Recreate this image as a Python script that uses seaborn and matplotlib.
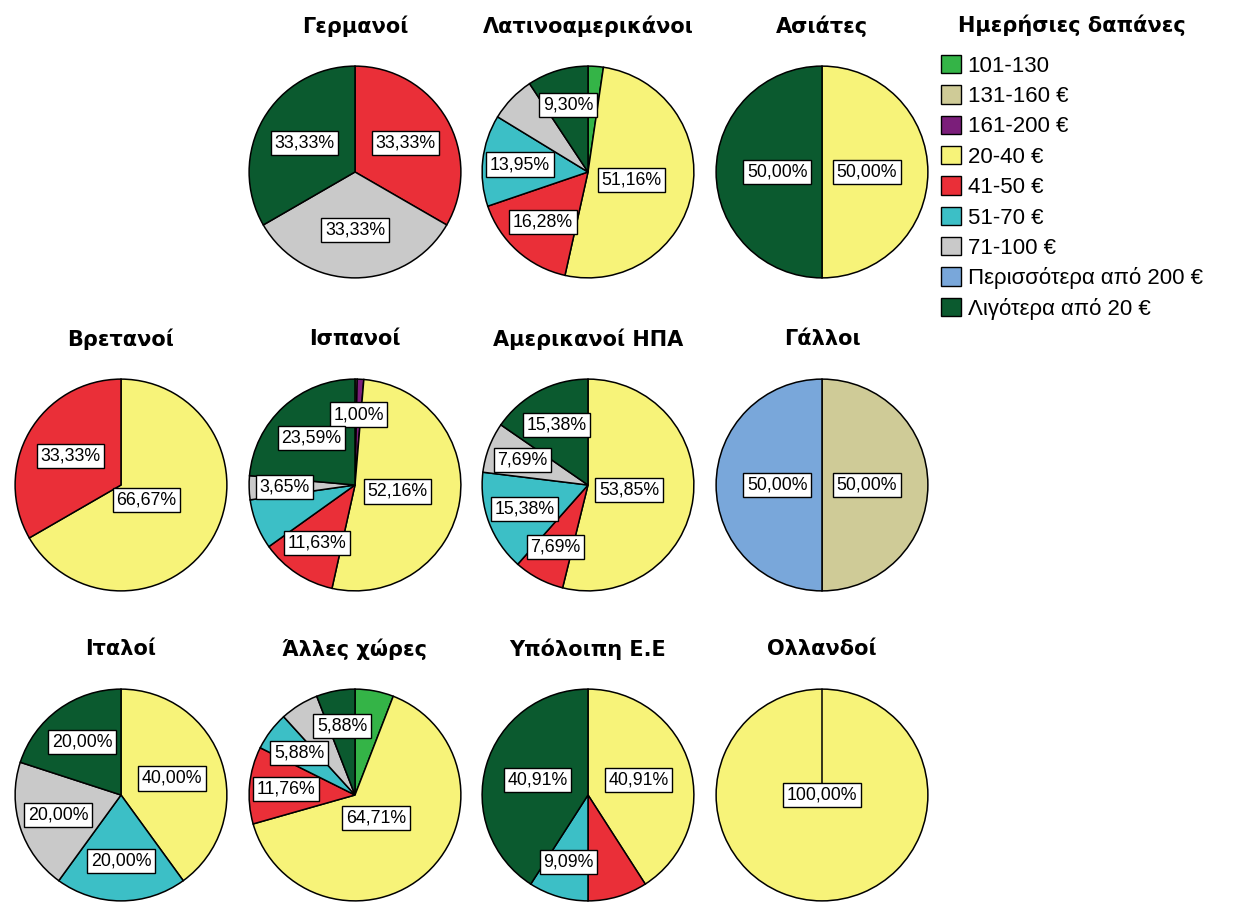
import matplotlib
matplotlib.use("Agg")
import matplotlib.pyplot as plt
import seaborn as sns
import numpy as np
from matplotlib.patches import Patch

sns.set_theme(style="white")
plt.rcParams['font.family'] = ['Liberation Sans', 'DejaVu Sans']
plt.rcParams['text.color'] = 'black'

# ---------------- data ----------------
categories = ["101-130", "131-160 €", "161-200 €", "20-40 €", "41-50 €", "51-70 €",
              "71-100 €", "Περισσότερα από 200 €", "Λιγότερα από 20 €"]
cat_colors = ["#34b447", "#cfcb97", "#7b1e7a", "#f7f379", "#ea2f38", "#3cbfc6",
              "#c9c9c9", "#79a7da", "#0b5a2f"]
legend_title = "Ημερήσιες δαπάνες"

germans  = [0, 0, 0, 0, 33.33, 0, 33.33, 0, 33.33]
latin    = [2.33, 0, 0, 51.16, 16.28, 13.95, 6.98, 0, 9.30]
asians   = [0, 0, 0, 50.00, 0, 0, 0, 0, 50.00]
british  = [0, 0, 0, 66.67, 33.33, 0, 0, 0, 0]
spanish  = [0, 0.33, 1.00, 52.16, 11.63, 7.64, 3.65, 0, 23.59]
american = [0, 0, 0, 53.85, 7.69, 15.38, 7.69, 0, 15.38]
french   = [0, 50.00, 0, 0, 0, 0, 0, 50.00, 0]
italian  = [0, 0, 0, 40.00, 0, 20.00, 20.00, 0, 20.00]
other    = [5.88, 0, 0, 64.71, 11.76, 5.88, 5.88, 0, 5.88]
rest_eu  = [0, 0, 0, 40.91, 9.09, 9.09, 0, 0, 40.91]
dutch    = [0, 0, 0, 100.00, 0, 0, 0, 0, 0]

# categories whose percentage label is printed in each pie
germans_lbl  = [4, 6, 8]
latin_lbl    = [3, 4, 5, 8]
asians_lbl   = [3, 8]
british_lbl  = [3, 4]
spanish_lbl  = [2, 3, 4, 6, 8]
american_lbl = [3, 4, 5, 6, 8]
french_lbl   = [1, 7]
italian_lbl  = [3, 5, 6, 8]
other_lbl    = [3, 4, 5, 8]
rest_eu_lbl  = [3, 5, 8]
dutch_lbl    = [3]

pies = [
    (0, 1, "Γερμανοί", germans, germans_lbl),
    (0, 2, "Λατινοαμερικάνοι", latin, latin_lbl),
    (0, 3, "Ασιάτες", asians, asians_lbl),
    (1, 0, "Βρετανοί", british, british_lbl),
    (1, 1, "Ισπανοί", spanish, spanish_lbl),
    (1, 2, "Αμερικανοί ΗΠΑ", american, american_lbl),
    (1, 3, "Γάλλοι", french, french_lbl),
    (2, 0, "Ιταλοί", italian, italian_lbl),
    (2, 1, "Άλλες χώρες", other, other_lbl),
    (2, 2, "Υπόλοιπη Ε.Ε", rest_eu, rest_eu_lbl),
    (2, 3, "Ολλανδοί", dutch, dutch_lbl),
]

# ---------------- layout ----------------
W, H = 1238, 905
fig = plt.figure(figsize=(W / 100, H / 100), dpi=100)
fig.patch.set_facecolor("white")
R = 108
col_cx = [121, 355, 588, 822]
row_cy = [172, 485, 795]
START = 90

palette = sns.color_palette(cat_colors)

for r, c, title, vals, lbls in pies:
    cx, cy = col_cx[c], row_cy[r]
    ax = fig.add_axes([(cx - R) / W, 1 - (cy + R) / H, 2 * R / W, 2 * R / H])
    idx = [i for i, v in enumerate(vals) if v > 0]
    v = np.array([vals[i] for i in idx], dtype=float)
    cols = [palette[i] for i in idx]
    ax.pie(v, colors=cols, startangle=START, counterclock=False, radius=1.0,
           wedgeprops=dict(edgecolor="black", linewidth=1.1))
    total = v.sum()
    if len(idx) == 1:
        th = np.deg2rad(START)
        ax.plot([0, np.cos(th)], [0, np.sin(th)], color="black", lw=1.1)
    cum = 0.0
    for k, i in enumerate(idx):
        frac = v[k] / total
        if i in lbls:
            mid = np.deg2rad(START - 360 * (cum + frac / 2))
            alpha = np.pi * frac
            rc = 2 * np.sin(alpha) / (3 * alpha)
            txt = f"{vals[i]:.2f}".replace(".", ",") + "%"
            ax.text(rc * np.cos(mid), rc * np.sin(mid), txt, ha="center", va="center",
                    fontsize=12.8, color="black", family=['Liberation Sans', 'DejaVu Sans'],
                    bbox=dict(boxstyle="square,pad=0.2", fc="white", ec="black", lw=1.0))
        cum += frac
    ax.set_xlim(-1.02, 1.02)
    ax.set_ylim(-1.02, 1.02)
    ax.set_aspect("equal")
    ax.axis("off")
    ax.text(0.5, 1 + 38 / (2 * R), title, transform=ax.transAxes, ha="center", va="center",
            fontsize=15, fontweight="bold", color="black", family=['DejaVu Sans'])

handles = [Patch(facecolor=col, edgecolor="black", linewidth=1.0) for col in cat_colors]
leg = fig.legend(handles, categories, loc="upper left", bbox_to_anchor=(941 / W, 1 - 14 / H),
                 frameon=False, borderpad=0, borderaxespad=0, handlelength=0.9,
                 handleheight=0.9, handletextpad=0.3, labelspacing=0.38,
                 prop=dict(family=['Liberation Sans', 'DejaVu Sans'], size=16))
leg.set_title(legend_title, prop=dict(family=['DejaVu Sans'], weight="bold", size=15))
leg._legend_box.sep = 14
for t in leg.get_texts():
    t.set_color("black")

fig.savefig("out.png", dpi=100, facecolor="white")
